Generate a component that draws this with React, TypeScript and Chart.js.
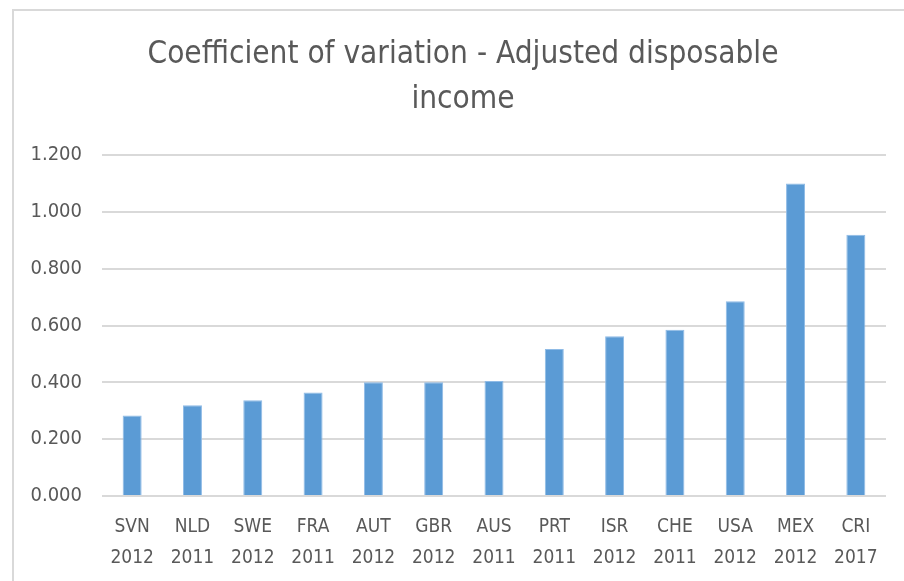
import React, { useEffect, useRef } from "react";
import { Chart, registerables } from "chart.js";

Chart.register(...registerables);

const countries = ["SVN", "NLD", "SWE", "FRA", "AUT", "GBR", "AUS", "PRT", "ISR", "CHE", "USA", "MEX", "CRI"];
const years = ["2012", "2011", "2012", "2011", "2012", "2012", "2011", "2011", "2012", "2011", "2012", "2012", "2017"];
const values = [0.283, 0.319, 0.337, 0.364, 0.4, 0.4, 0.405, 0.517, 0.562, 0.585, 0.685, 1.1, 0.919];
const titleLines = ["Coefficient of variation - Adjusted disposable", "income"];

const FONT = "'Liberation Sans Narrow', 'DejaVu Sans Condensed', sans-serif";
const TEXT = "#595959";

const titlePlugin = {
  id: "centeredTitle",
  afterDraw(chart: any) {
    const ctx = chart.ctx;
    ctx.save();
    ctx.fillStyle = TEXT;
    ctx.font = `normal 31.3px ${FONT}`;
    ctx.textAlign = "center";
    ctx.textBaseline = "middle";
    const cx = (40 + chart.chartArea.right) / 2;
    titleLines.forEach((line, i) => ctx.fillText(line, cx, 55 + i * 45));
    ctx.restore();
  },
};

export default function App() {
  const ref = useRef<HTMLCanvasElement | null>(null);

  useEffect(() => {
    if (!ref.current) return;
    const labels = countries.map((c, i) => [c, years[i]]);
    const chart = new Chart(ref.current, {
      type: "bar",
      data: {
        labels,
        datasets: [
          {
            data: values,
            backgroundColor: "#5b9bd5",
            borderColor: "#8fbbe6",
            borderWidth: 1,
            barPercentage: 0.315,
            categoryPercentage: 1,
          },
        ],
      },
      plugins: [titlePlugin],
      options: {
        animation: false,
        responsive: false,
        devicePixelRatio: 1,
        layout: { padding: { left: 0, right: 18, top: 155, bottom: 0 } },
        plugins: {
          legend: { display: false },
          tooltip: { enabled: false },
          title: { display: false },
        },
        scales: {
          x: {
            grid: { display: false, drawTicks: false },
            border: { display: false },
            ticks: {
              color: TEXT,
              font: { family: FONT, size: 19, lineHeight: 1.65 },
              padding: 15,
              maxRotation: 0,
              autoSkip: false,
            },
            afterFit: (s: any) => {
              s.height = 85;
            },
          },
          y: {
            min: 0,
            max: 1.2,
            grid: { color: "#d9d9d9", lineWidth: 2, drawTicks: false },
            border: { display: false },
            ticks: {
              stepSize: 0.2,
              color: TEXT,
              font: { family: FONT, size: 20 },
              padding: 20,
              callback: (v: any) => Number(v).toFixed(3),
            },
            afterFit: (s: any) => {
              s.width = 102;
            },
          },
        },
      },
    });
    return () => chart.destroy();
  }, []);

  return (
    <div style={{ position: "fixed", left: 0, top: 0, width: 904, height: 581, background: "#fff" }}>
      <div
        style={{
          position: "absolute",
          left: 12,
          top: 9,
          right: 0,
          bottom: 0,
          borderTop: "2px solid #d9d9d9",
          borderLeft: "2px solid #d9d9d9",
        }}
      />
      <canvas ref={ref} width={904} height={581} style={{ position: "absolute", left: 0, top: 0 }} />
    </div>
  );
}
